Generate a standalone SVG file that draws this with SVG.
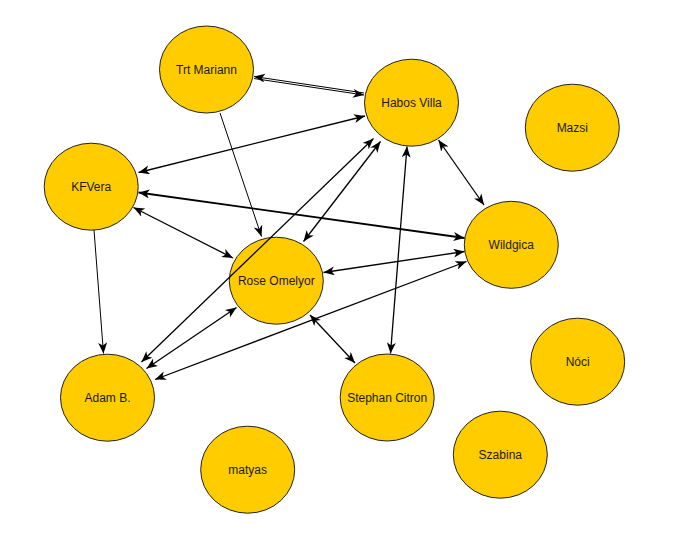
<svg xmlns="http://www.w3.org/2000/svg" width="696" height="550" viewBox="0 0 696 550">
<style>
.n ellipse{fill:#FFCC00;stroke:#222;stroke-width:1}
.n text{font-family:"Liberation Sans",Arial,sans-serif;font-size:12px;fill:#1a1a1a;text-anchor:middle}
.e line{stroke:#000;stroke-width:1;fill:none}
.e .b{stroke-width:1.3;marker-start:url(#a);marker-end:url(#a)}
.e .o{marker-end:url(#a)}
.e .t{stroke-width:1.9}
</style>
<defs>
<marker id="a" markerUnits="userSpaceOnUse" markerWidth="12" markerHeight="10" refX="11" refY="4.5" orient="auto-start-reverse">
<path d="M0,0 L11,4.5 L0,9 L3,4.5 z" fill="#000"/>
</marker>
</defs>
<rect width="696" height="550" fill="#fff"/>
<g class="n" id="trt-mariann"><ellipse cx="206.5" cy="69.5" rx="47" ry="43.5"/><text x="206.5" y="73.5">Trt Mariann</text></g>
<g class="n" id="habos-villa"><ellipse cx="411.5" cy="102.7" rx="47" ry="43.5"/><text x="411.5" y="106.7">Habos Villa</text></g>
<g class="n" id="mazsi"><ellipse cx="572.3" cy="127.7" rx="47" ry="43.5"/><text x="572.3" y="131.7">Mazsi</text></g>
<g class="n" id="kfvera"><ellipse cx="91.2" cy="186.7" rx="47" ry="43.5"/><text x="91.2" y="190.7">KFVera</text></g>
<g class="n" id="wildgica"><ellipse cx="511.3" cy="244.8" rx="47" ry="43.5"/><text x="511.3" y="248.8">Wildgica</text></g>
<g class="n" id="rose-omelyor"><ellipse cx="276.3" cy="280.7" rx="47" ry="43.5"/><text x="276.3" y="284.7">Rose Omelyor</text></g>
<g class="n" id="adam-b"><ellipse cx="107.5" cy="397.7" rx="47" ry="43.5"/><text x="107.5" y="401.7">Adam B.</text></g>
<g class="n" id="stephan-citron"><ellipse cx="387.2" cy="397.5" rx="47" ry="43.5"/><text x="387.2" y="401.5">Stephan Citron</text></g>
<g class="n" id="noci"><ellipse cx="577.7" cy="361.7" rx="47" ry="43.5"/><text x="577.7" y="365.7">Nóci</text></g>
<g class="n" id="szabina"><ellipse cx="500.3" cy="454.7" rx="47" ry="43.5"/><text x="500.3" y="458.7">Szabina</text></g>
<g class="n" id="matyas"><ellipse cx="247.7" cy="469.7" rx="47" ry="43.5"/><text x="247.7" y="473.7">matyas</text></g>
<g class="e" id="connectors">
<line class="o" x1="254" y1="78.5" x2="364" y2="95"/>
<line class="o" x1="364" y1="93" x2="254" y2="76.5"/>
<line class="b" x1="138.5" y1="172.5" x2="365" y2="116"/>
<line class="o" x1="220" y1="113" x2="261.5" y2="236.5"/>
<line class="b t" x1="138.5" y1="192.5" x2="464.5" y2="238"/>
<line class="b" x1="133.5" y1="207.5" x2="233" y2="258"/>
<line class="o" x1="94" y1="230" x2="103.5" y2="353.5"/>
<line class="b" x1="380.5" y1="141.5" x2="303.5" y2="241.5"/>
<line class="b" x1="373.5" y1="138.5" x2="141.5" y2="362"/>
<line class="b" x1="236.5" y1="307.5" x2="146.5" y2="368.5"/>
<line class="b" x1="466.5" y1="261.5" x2="155" y2="379.5"/>
<line class="b" x1="464.5" y1="251.5" x2="323.5" y2="272.5"/>
<line class="b" x1="438.5" y1="140" x2="484" y2="205"/>
<line class="b" x1="407" y1="146.5" x2="390.5" y2="353.5"/>
<line class="b" x1="310" y1="315" x2="355" y2="363"/>
</g>
</svg>
